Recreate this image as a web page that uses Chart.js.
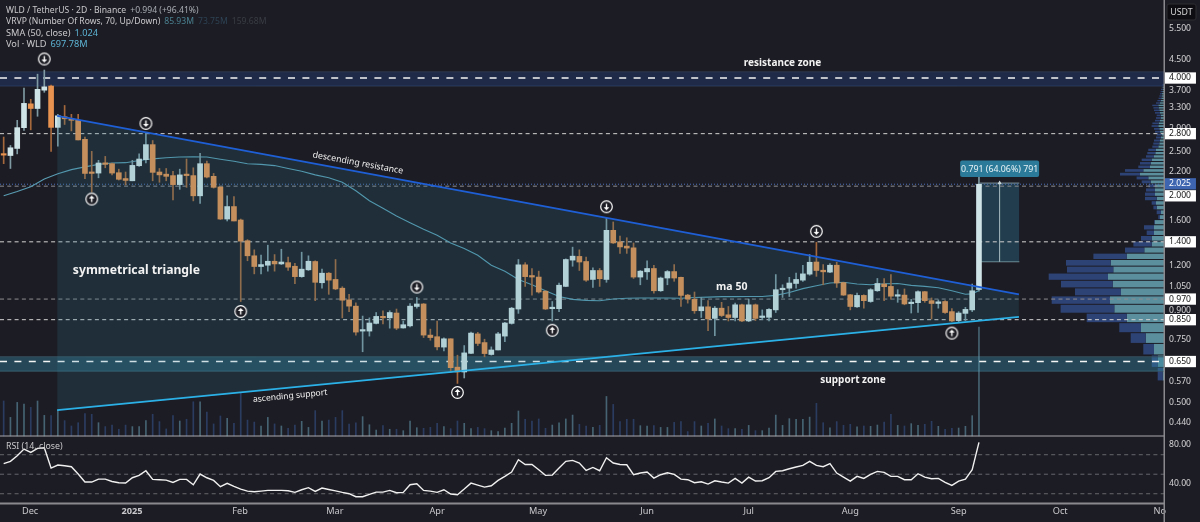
<!DOCTYPE html>
<html>
<head>
<meta charset="utf-8">
<title>WLD / TetherUS</title>
<script src="https://cdn.jsdelivr.net/npm/chart.js@4"></script>
<style>
    html, body { margin: 0; padding: 0; background: #1c1c24; overflow: hidden; }
    canvas { display: block; }
</style>
</head>
<body>
<canvas id="chart" width="1200" height="522"></canvas>
<script>
// candles, one every two days
const opens = [
    2.45, 2.434, 2.547, 2.91, 3.39, 3.29, 3.70, 3.80, 2.915, 3.12,
    3.08, 3.05, 2.70, 2.18, 2.175, 2.32, 2.31, 2.18, 2.10, 2.07,
    2.28, 2.37, 2.61, 2.19, 2.16, 2.14, 2.02, 2.15, 2.14, 1.88,
    2.31, 2.13, 1.99, 1.62, 1.755, 1.61, 1.41, 1.28, 1.195, 1.205,
    1.236, 1.215, 1.225, 1.197, 1.12, 1.17, 1.234, 1.077, 1.145, 1.10,
    1.04, 0.965, 0.927, 0.79, 0.79, 0.83, 0.868, 0.86, 0.887, 0.806,
    0.817, 0.925, 0.94, 0.77, 0.762, 0.713, 0.752, 0.627, 0.608, 0.685,
    0.776, 0.734, 0.68, 0.70, 0.765, 0.83, 0.91, 1.208, 1.125, 1.117,
    1.02, 0.912, 0.912, 1.052, 1.245, 1.275, 1.234, 1.10, 1.165, 1.10,
    1.507, 1.40, 1.362, 1.347, 1.117, 1.155, 1.18, 1.023, 1.11, 1.157,
    1.115, 0.995, 0.968, 0.90, 0.923, 0.857, 0.915, 0.877, 0.862, 0.935,
    0.843, 0.935, 0.862, 0.863, 0.905, 1.03, 1.04, 1.072, 1.095, 1.138,
    1.23, 1.167, 1.153, 1.205, 1.078, 0.997, 0.923, 0.993, 0.955, 1.023,
    1.068, 1.052, 0.988, 0.995, 0.942, 0.948, 1.017, 0.96, 0.943, 0.955,
    0.895, 0.845, 0.885, 0.905, 1.031
];
const closes = [
    2.44, 2.558, 2.91, 3.40, 3.29, 3.72, 3.78, 2.915, 3.14, 3.08,
    3.05, 2.69, 2.17, 2.17, 2.32, 2.30, 2.175, 2.09, 2.075, 2.285,
    2.38, 2.61, 2.185, 2.15, 2.13, 2.02, 2.15, 2.14, 1.88, 2.31,
    2.12, 1.985, 1.62, 1.755, 1.60, 1.406, 1.28, 1.195, 1.21, 1.236,
    1.215, 1.23, 1.19, 1.12, 1.175, 1.236, 1.08, 1.145, 1.095, 1.035,
    0.963, 0.927, 0.785, 0.793, 0.832, 0.868, 0.86, 0.89, 0.805, 0.823,
    0.927, 0.94, 0.77, 0.758, 0.714, 0.752, 0.625, 0.608, 0.687, 0.78,
    0.73, 0.684, 0.70, 0.776, 0.832, 0.915, 1.208, 1.12, 1.117, 1.015,
    0.91, 0.917, 1.06, 1.25, 1.277, 1.23, 1.095, 1.165, 1.105, 1.507,
    1.39, 1.355, 1.345, 1.117, 1.16, 1.18, 1.023, 1.11, 1.157, 1.11,
    0.993, 0.97, 0.90, 0.923, 0.854, 0.915, 0.873, 0.862, 0.935, 0.843,
    0.935, 0.857, 0.866, 0.908, 1.03, 1.04, 1.075, 1.10, 1.14, 1.228,
    1.165, 1.155, 1.205, 1.075, 0.995, 0.925, 0.993, 0.96, 1.03, 1.072,
    1.05, 0.988, 0.997, 0.94, 0.95, 1.017, 0.96, 0.943, 0.953, 0.89,
    0.843, 0.887, 0.908, 1.023, 2.025
];
const highs = [
    2.74, 2.596, 3.05, 3.75, 3.49, 4.10, 4.21, 3.82, 3.17, 3.355,
    3.17, 3.17, 2.74, 2.50, 2.36, 2.42, 2.32, 2.23, 2.19, 2.36,
    2.46, 2.81, 2.68, 2.24, 2.24, 2.20, 2.23, 2.38, 2.25, 2.47,
    2.35, 2.17, 1.99, 1.88, 1.87, 1.62, 1.42, 1.33, 1.285, 1.37,
    1.29, 1.335, 1.27, 1.22, 1.31, 1.28, 1.24, 1.175, 1.15, 1.25,
    1.05, 1.0, 0.947, 0.87, 0.86, 0.89, 0.90, 0.90, 0.91, 0.843,
    0.943, 0.98, 0.943, 0.80, 0.843, 0.757, 0.752, 0.677, 0.72, 0.785,
    0.784, 0.75, 0.714, 0.784, 0.836, 0.92, 1.25, 1.225, 1.18, 1.16,
    1.023, 0.955, 1.075, 1.255, 1.353, 1.33, 1.27, 1.185, 1.18, 1.63,
    1.59, 1.453, 1.437, 1.39, 1.165, 1.24, 1.205, 1.117, 1.165, 1.21,
    1.117, 1.0, 1.015, 0.98, 0.96, 0.925, 0.95, 0.925, 0.945, 0.94,
    0.97, 0.94, 0.905, 0.912, 1.135, 1.063, 1.115, 1.145, 1.205, 1.29,
    1.395, 1.21, 1.217, 1.228, 1.08, 1.0, 1.008, 0.997, 1.037, 1.107,
    1.107, 1.135, 1.03, 1.035, 0.968, 1.023, 1.019, 0.977, 0.965, 0.96,
    0.912, 0.895, 0.92, 1.068, 2.125
];
const lows = [
    2.31, 2.24, 2.46, 2.86, 2.87, 3.13, 3.65, 2.50, 2.585, 2.97,
    2.85, 2.69, 2.10, 1.925, 2.11, 2.25, 2.15, 2.08, 2.015, 2.07,
    2.27, 2.32, 2.07, 2.05, 2.07, 1.83, 1.96, 1.985, 1.82, 1.79,
    2.11, 1.975, 1.615, 1.60, 1.60, 0.955, 1.24, 1.14, 1.14, 1.16,
    1.16, 1.21, 1.165, 1.07, 1.115, 1.165, 0.96, 1.04, 1.0, 1.03,
    0.86, 0.895, 0.77, 0.692, 0.765, 0.827, 0.827, 0.805, 0.797, 0.805,
    0.811, 0.915, 0.758, 0.745, 0.70, 0.696, 0.608, 0.565, 0.585, 0.684,
    0.72, 0.67, 0.677, 0.70, 0.738, 0.826, 0.885, 1.052, 0.995, 1.008,
    0.907, 0.843, 0.895, 1.05, 1.197, 1.165, 1.087, 1.045, 1.052, 1.08,
    1.385, 1.30, 1.30, 1.107, 1.063, 1.10, 1.008, 1.019, 1.063, 1.087,
    0.925, 0.945, 0.885, 0.862, 0.792, 0.767, 0.867, 0.843, 0.843, 0.839,
    0.839, 0.845, 0.85, 0.843, 0.89, 0.98, 0.986, 1.04, 1.087, 1.13,
    1.122, 1.063, 1.148, 1.045, 0.993, 0.905, 0.92, 0.915, 0.95, 1.019,
    0.96, 0.97, 0.95, 0.935, 0.887, 0.89, 0.95, 0.854, 0.915, 0.885,
    0.839, 0.839, 0.845, 0.895, 1.02
];
// volume in millions
const volumes = [
    224, 119, 215, 205, 183, 224, 132, 130, 166, 98,
    64, 85, 143, 139, 85, 60, 70, 43, 70, 60,
    60, 98, 139, 92, 45, 130, 96, 107, 219, 219,
    153, 77, 128, 113, 81, 273, 102, 89, 64, 119,
    77, 64, 49, 70, 94, 55, 162, 96, 102, 119,
    162, 77, 85, 124, 72, 38, 66, 43, 43, 34,
    96, 53, 49, 55, 81, 60, 47, 96, 81, 47,
    55, 47, 34, 28, 51, 81, 160, 107, 96, 109,
    49, 70, 85, 109, 134, 75, 64, 55, 68, 253,
    202, 92, 107, 107, 66, 64, 66, 55, 55, 87,
    92, 28, 92, 64, 81, 109, 64, 47, 47, 43,
    68, 34, 34, 51, 134, 68, 111, 107, 107, 121,
    209, 85, 53, 92, 68, 75, 58, 64, 62, 70,
    89, 138, 68, 64, 79, 68, 75, 94, 62, 43,
    49, 51, 62, 130, 697.78
];
const rsiValues = [
    60.8, 63.2, 69, 75.8, 72.4, 76.5, 77.2, 56.3, 59.4, 58.7,
    57.7, 50.2, 42, 42, 45, 45, 42.6, 41.3, 41, 46.4,
    48.8, 53.6, 44.7, 44.4, 44, 41.6, 44.7, 44.7, 39.2, 50.2,
    46.4, 43.7, 37.2, 40.6, 37.5, 34.8, 32.7, 32, 32.7, 33.4,
    33.4, 33.4, 33, 31.4, 34.1, 36.2, 32.4, 35.8, 34.4, 33,
    31.4, 30, 26.9, 26.9, 29.3, 31.7, 31.7, 33.4, 31, 31.4,
    39.2, 40.3, 33.4, 32.7, 31.4, 34.1, 29.7, 29, 34.8, 40.9,
    38.9, 36.8, 38.2, 43.7, 47.8, 52.2, 64.9, 60, 60, 54.6,
    48.8, 49.1, 56.3, 63.2, 64.2, 61.5, 53.9, 57, 53.6, 66.9,
    61.5, 60, 59.7, 49.5, 51.2, 52.2, 46, 49.5, 51.5, 49.8,
    45, 44.4, 41.3, 42.3, 39.9, 43.3, 42, 40.9, 45.7, 40.9,
    47, 43, 43.3, 46.4, 52.9, 53.6, 55.6, 57.4, 59, 63.2,
    59, 57.7, 60.8, 51.2, 47.1, 43, 47.8, 45.7, 49.8, 52.9,
    51.9, 47.8, 47.8, 44.4, 44.4, 50.5, 47.1, 45.4, 45.7, 41.6,
    38.5, 43, 45, 54.6, 82.6
];

// SMA 50, read at every other candle
const smaIndex = [
    0, 2, 4, 6, 8, 10, 12, 14, 16, 18, 20, 22, 24, 26, 28, 30, 32, 34, 36, 38,
    40, 42, 44, 46, 48, 50, 52, 54, 56, 58, 60, 62, 64, 66, 68, 70, 72, 74, 76, 78,
    80, 82, 84, 86, 88, 90, 92, 94, 96, 98, 100, 102, 104, 106, 108, 110, 112, 114, 116, 118,
    120, 122, 124, 126, 128, 130, 132, 134, 136, 138, 140, 142, 143, 144
];
const smaValues = [
    1.88, 1.933, 1.993, 2.094, 2.165, 2.224, 2.263, 2.30, 2.32, 2.325, 2.357, 2.383, 2.40, 2.41, 2.415, 2.41, 2.377, 2.347, 2.31, 2.30,
    2.282, 2.24, 2.20, 2.15, 2.11, 2.05, 1.942, 1.821, 1.737, 1.653, 1.583, 1.517, 1.46, 1.39, 1.342, 1.285, 1.205, 1.159, 1.10, 1.063,
    1.023, 0.986, 0.968, 0.962, 0.96, 0.97, 0.975, 0.977, 0.977, 0.977, 0.975, 0.98, 0.982, 0.985, 0.985, 0.986, 0.986, 0.993, 1.012, 1.037,
    1.057, 1.075, 1.08, 1.068, 1.063, 1.07, 1.072, 1.059, 1.052, 1.043, 1.023, 1.0, 1.003, 1.024
];

// visible range of the time axis, in candles
const xStart = -0.542;
const xEnd = 171.32;

// axis ticks
const monthTicks = [3.9, 18.95, 34.9, 48.9, 64, 78.9, 95, 110, 125, 141, 156, 170.7];
const monthLabels = ['Dec', '2025', 'Feb', 'Mar', 'Apr', 'May', 'Jun', 'Jul', 'Aug', 'Sep', 'Oct', 'No'];
const priceTicks = [5.5, 4.5, 3.7, 3.3, 2.9, 2.5, 2.2, 1.6, 1.2, 1.05, 0.9, 0.75, 0.57, 0.5, 0.44, 4.0, 2.8, 1.88, 2.03, 1.4, 0.97, 0.85, 0.65];
const priceLabels = ['5.500', '4.500', '3.700', '3.300', '2.900', '2.500', '2.200', '1.600', '1.200', '1.050', '0.900', '0.750', '0.570', '0.500', '0.440', '4.000', '2.800', '2.000', '2.025', '1.400', '0.970', '0.850', '0.650'];
const firstBoxedTick = 15;
const lastPriceTick = 18;
const rsiTicks = [80, 40];
const rsiLevels = [70, 50, 30];

// drawn levels and zones
const resistanceZone = [3.80, 4.16];
const supportZone = [0.611, 0.67];
const strongLevels = [4.0, 0.65];
const thinLevels = [2.8, 1.4, 0.85];
const dimLevels = [2.0, 0.97];
const lastPrice = 2.025;

// triangle trendlines
const trendIndex = [7.9, 149.9];
const descendingLine = [3.14, 1.0];
const ascendingLine = [0.476, 0.865];

// arrow markers
const downArrowIndex = [6, 21, 61, 89, 120];
const downArrowPrice = [4.52, 2.99, 1.048, 1.753, 1.497];
const upArrowIndex = [13, 35, 67, 81, 140];
const upArrowPrice = [1.842, 0.896, 0.533, 0.794, 0.78];

// price range measurement
const measureIndex = [144.15, 149.96];
const measureMiddle = 147.05;
const measureLow = 1.232;
const measureHigh = 2.04;

// volume profile rows
const profilePrices = [
    0.600, 0.652, 0.704, 0.756, 0.808, 0.860, 0.912, 0.964, 1.016, 1.068,
    1.120, 1.172, 1.224, 1.276, 1.328, 1.380, 1.432, 1.484, 1.536, 1.588,
    1.640, 1.692, 1.744, 1.796, 1.848, 1.900, 1.952, 2.004, 2.056, 2.108,
    2.160, 2.212, 2.264, 2.316, 2.368, 2.420, 2.472, 2.524, 2.576, 2.628,
    2.680, 2.732, 2.784, 2.836, 2.888, 2.940, 2.992, 3.044, 3.096, 3.148,
    3.200, 3.252, 3.304, 3.356, 3.408, 3.460, 3.512, 3.564, 3.616, 3.668,
    3.720, 3.772, 3.824
];
const profileUp = [
    1.3, 6.3, 10, 18.3, 23, 37.3, 49.7, 54, 43, 51.3,
    56, 50.7, 53.3, 37.3, 19.7, 12.3, 12.3, 10, 10, 9.3,
    4, 3, 7.3, 8, 7.3, 9, 9, 9, 13.3, 15.7,
    24, 20.7, 14, 13.3, 12.3, 10, 8.7, 8, 5.7, 4.7,
    4, 3, 2.3, 4, 4.7, 5.7, 5.3, 4, 3.3, 3.3,
    4, 4.7, 5.3, 5.7, 4, 3.3, 2.7, 2.3, 2, 1.7,
    1.3, 1.3, 1
];
const profileDown = [
    5, 6, 10.7, 15, 21.7, 40, 53.7, 58.3, 46, 51.7,
    59.3, 46.3, 44.7, 33.3, 19.3, 18.3, 10.7, 7.3, 10, 0.7,
    1.7, 4.3, 3.3, 4.3, 11.7, 10, 9, 6.7, 9, 11.7,
    20, 18.3, 11.7, 10.7, 10, 8, 8, 7.7, 6, 6,
    6, 5, 5, 5, 5.3, 6.7, 6.3, 5, 4.7, 4,
    5, 5.3, 5.3, 6, 4, 3.3, 2.7, 2.3, 2, 1.7,
    1.7, 1, 1
];
const profileStep = 0.052;

// rotated and plain notes on the chart: [text, candle, price, angle, font]
const notes = [
    ['resistance zone', 115, 4.40, 0, 'bold 10px "Noto Sans"'],
    ['support zone', 125.4, 0.578, 0, 'bold 10px "Noto Sans"'],
    ['symmetrical triangle', 19.6, 1.165, 0, 'bold 12.2px "Noto Sans"'],
    ['ma 50', 107.5, 1.048, 0, 'bold 10.5px "Noto Sans"'],
    ['descending resistance', 52.3, 2.32, 10.4, '8.8px "Noto Sans"'],
    ['ascending support', 42.3, 0.521, -5.6, '8.5px "Noto Sans"']
];

const background = '#1c1c24';
const upBody = '#cfe4e7';
const downBody = '#e89350';
const upWick = '#7f9aa3';
const downWick = '#a5683c';
const fontName = '"Noto Sans", sans-serif';

function pairs(xs, ys) {
    return xs.map((x, i) => ({ x: x, y: ys[i] }));
}

function isUp(index) {
    return closes[index] >= opens[index];
}

// labels hang over the pane edges in the reference, so no layout padding for them
function noScalePadding(scale) {
    scale.paddingLeft = 0;
    scale.paddingRight = 0;
    scale.paddingTop = 0;
    scale.paddingBottom = 0;
}

function flatLine(value, axis, color, width, dash, order) {
    return {
        type: 'line',
        yAxisID: axis,
        data: [{ x: xStart, y: value }, { x: xEnd, y: value }],
        borderColor: color,
        borderWidth: width,
        borderDash: dash,
        pointRadius: 0,
        order: order
    };
}

function zoneDatasets(zone, fillColor, edgeColor) {
    const top = flatLine(zone[1], 'y', edgeColor, 1, [], 90);
    top.fill = '+1';
    top.backgroundColor = fillColor;
    const bottom = flatLine(zone[0], 'y', edgeColor, 1, [], 90);
    return [top, bottom];
}

function makeArrow(pointsUp) {
    const marker = document.createElement('canvas');
    marker.width = 15;
    marker.height = 15;
    const c = marker.getContext('2d');
    const dir = pointsUp ? -1 : 1;
    c.fillStyle = background;
    c.strokeStyle = '#ffffff';
    c.lineWidth = 1.2;
    c.beginPath();
    c.arc(7.5, 7.5, 5.8, 0, Math.PI * 2);
    c.fill();
    c.stroke();
    c.lineWidth = 1.4;
    c.beginPath();
    c.moveTo(7.5, 7.5 - 3 * dir);
    c.lineTo(7.5, 7.5 + 2 * dir);
    c.stroke();
    c.fillStyle = '#ffffff';
    c.beginPath();
    c.moveTo(7.5, 7.5 + 3.6 * dir);
    c.lineTo(4.6, 7.5 + 0.6 * dir);
    c.lineTo(10.4, 7.5 + 0.6 * dir);
    c.closePath();
    c.fill();
    return marker;
}

function arrowDataset(xs, ys, pointsUp) {
    return {
        type: 'line',
        yAxisID: 'y',
        data: pairs(xs, ys),
        showLine: false,
        pointStyle: makeArrow(pointsUp),
        pointRadius: 7,
        order: 5
    };
}

const candleIndex = opens.map((o, i) => i);

const datasets = [
    ...zoneDatasets(resistanceZone, 'rgba(34, 66, 130, 0.38)', '#2e3a52'),
    ...zoneDatasets(supportZone, 'rgba(50, 130, 160, 0.42)', '#37505c'),
    // triangle fill sits between the two trendlines
    {
        type: 'line',
        yAxisID: 'y',
        data: pairs(trendIndex, descendingLine),
        borderColor: '#1f5fd6',
        borderWidth: 1.8,
        pointRadius: 0,
        fill: '+1',
        backgroundColor: 'rgba(50, 130, 150, 0.19)',
        order: 15
    },
    {
        type: 'line',
        yAxisID: 'y',
        data: pairs(trendIndex, ascendingLine),
        borderColor: '#2cb8f2',
        borderWidth: 1.8,
        pointRadius: 0,
        order: 15
    },
    // measurement box
    {
        type: 'line',
        yAxisID: 'y',
        data: measureIndex.map(x => ({ x: x, y: measureHigh })),
        borderColor: '#7d8f96',
        borderWidth: 1,
        pointRadius: 0,
        fill: '+1',
        backgroundColor: 'rgba(43, 122, 153, 0.36)',
        order: 70
    },
    {
        type: 'line',
        yAxisID: 'y',
        data: measureIndex.map(x => ({ x: x, y: measureLow })),
        borderColor: '#7d8f96',
        borderWidth: 1,
        pointRadius: 0,
        order: 70
    },
    {
        type: 'line',
        yAxisID: 'y',
        data: [{ x: measureMiddle, y: measureLow }, { x: measureMiddle, y: measureHigh }],
        borderColor: '#a9bcc2',
        borderWidth: 1,
        pointStyle: 'triangle',
        pointRadius: [0, 2.5],
        pointBackgroundColor: '#c8d6da',
        pointBorderWidth: 0,
        order: 18
    },
    // volume
    {
        type: 'bar',
        yAxisID: 'vol',
        data: pairs(candleIndex, volumes),
        backgroundColor: candleIndex.map(i => isUp(i) ? 'rgba(104, 158, 178, 0.55)' : 'rgba(52, 78, 130, 0.65)'),
        barThickness: 1,
        order: 65
    },
    ...strongLevels.map(v => flatLine(v, 'y', '#f4f4f4', 1.5, [7, 7.4], 60)),
    ...thinLevels.map(v => flatLine(v, 'y', '#d4d4d4', 1, [4, 3.3], 60)),
    ...dimLevels.map(v => flatLine(v, 'y', '#8e8e92', 1, [4, 3.3], 60)),
    flatLine(lastPrice, 'y', '#4d6fb8', 1, [1, 2], 61),
    // SMA 50
    {
        type: 'line',
        yAxisID: 'y',
        data: pairs(smaIndex, smaValues),
        borderColor: '#5a9db3',
        borderWidth: 1.1,
        pointRadius: 0,
        order: 40
    },
    // candle wicks and bodies
    {
        type: 'bar',
        yAxisID: 'y',
        data: candleIndex.map(i => ({ x: i, y: [lows[i], highs[i]] })),
        backgroundColor: candleIndex.map(i => isUp(i) ? upWick : downWick),
        barThickness: 1,
        order: 30
    },
    {
        type: 'bar',
        yAxisID: 'y',
        data: candleIndex.map(i => ({ x: i, y: [opens[i], closes[i]] })),
        backgroundColor: candleIndex.map(i => isUp(i) ? upBody : downBody),
        barThickness: 5,
        minBarLength: 1.5,
        order: 20
    },
    arrowDataset(downArrowIndex, downArrowPrice, false),
    arrowDataset(upArrowIndex, upArrowPrice, true),
    // RSI pane
    ...rsiLevels.map(v => flatLine(v, 'rsi', '#66666c', 1, [4, 3.3], 12)),
    {
        type: 'line',
        yAxisID: 'rsi',
        data: pairs(candleIndex, rsiValues),
        borderColor: '#f0f0f0',
        borderWidth: 1.4,
        pointRadius: 0,
        order: 10
    }
];

function drawLegendLine(ctx, y, size, parts) {
    let x = 6;
    ctx.font = size + 'px ' + fontName;
    parts.forEach(part => {
        ctx.fillStyle = part[1];
        ctx.fillText(part[0], x, y);
        x += ctx.measureText(part[0]).width + 4;
    });
}

// volume profile goes under the zones and levels
const profilePlugin = {
    id: 'profile',
    beforeDatasetsDraw(chart) {
        const ctx = chart.ctx;
        const y = chart.scales.y;
        const w = chart.scales.profile;
        ctx.save();
        profilePrices.forEach((price, i) => {
            const top = y.getPixelForValue(price + profileStep / 2) + 0.5;
            const bottom = y.getPixelForValue(price - profileStep / 2) - 0.5;
            const upEnd = w.getPixelForValue(profileUp[i]);
            const downEnd = w.getPixelForValue(profileUp[i] + profileDown[i]);
            ctx.fillStyle = '#5b8f9e';
            ctx.fillRect(upEnd, top, w.getPixelForValue(0) - upEnd, bottom - top);
            ctx.fillStyle = '#2e4375';
            ctx.fillRect(downEnd, top, upEnd - downEnd, bottom - top);
        });
        ctx.restore();
    }
};

// text notes, pane frame and legend
const overlayPlugin = {
    id: 'overlay',
    afterDraw(chart) {
        const ctx = chart.ctx;
        const x = chart.scales.x;
        const y = chart.scales.y;
        const right = chart.chartArea.right;
        const rsiBottom = chart.chartArea.bottom;
        ctx.save();

        // pane separators and price axis edge
        ctx.fillStyle = '#a8a8ac';
        ctx.fillRect(0, y.bottom - 0.5, right, 1);
        ctx.fillStyle = '#8a8a8e';
        ctx.fillRect(0, rsiBottom - 0.5, right, 2);
        ctx.fillRect(right - 0.5, 0, 1.5, chart.height);

        // notes
        ctx.textBaseline = 'middle';
        ctx.textAlign = 'center';
        ctx.fillStyle = '#f2f2f2';
        notes.forEach(note => {
            ctx.save();
            ctx.translate(x.getPixelForValue(note[1]), y.getPixelForValue(note[2]));
            ctx.rotate(note[3] * Math.PI / 180);
            ctx.font = note[4];
            ctx.fillText(note[0], 0, 0);
            ctx.restore();
        });

        // measurement label
        const labelX = x.getPixelForValue(measureMiddle);
        ctx.fillStyle = '#2b7a99';
        ctx.beginPath();
        ctx.roundRect(labelX - 39.5, 160.5, 79, 16.5, 2);
        ctx.fill();
        ctx.fillStyle = '#e8f2f5';
        ctx.font = '8.8px ' + fontName;
        ctx.fillText('0.791 (64.06%) 791', labelX, 169);

        // legend block
        ctx.textAlign = 'left';
        drawLegendLine(ctx, 10.5, 8.6, [['WLD / TetherUS · 2D · Binance', '#c9c9cc'], ['+0.994 (+96.41%)', '#a9adb3']]);
        drawLegendLine(ctx, 22, 8.6, [['VRVP (Number Of Rows, 70, Up/Down)', '#c9c9cc'], ['85.93M', '#4a8090'], ['73.75M', '#2d4254'], ['159.68M', '#3a3d44']]);
        drawLegendLine(ctx, 33, 9.2, [['SMA (50, close)', '#c9c9cc'], ['1.024', '#5cb2d2']]);
        drawLegendLine(ctx, 44, 9.2, [['Vol · WLD', '#c9c9cc'], ['697.78M', '#5cb2d2']]);
        ctx.font = '8.8px ' + fontName;
        ctx.fillStyle = '#c9c9cc';
        ctx.fillText('RSI (14, close)', 6, y.bottom + 10);

        // currency box
        ctx.fillStyle = '#0e0e12';
        ctx.strokeStyle = '#2c2c32';
        ctx.beginPath();
        ctx.roundRect(1167, 4, 29, 16, 2);
        ctx.fill();
        ctx.stroke();
        ctx.fillStyle = '#d4d4d6';
        ctx.font = '8.8px ' + fontName;
        ctx.textAlign = 'center';
        ctx.fillText('USDT', 1181.5, 12.5);
        ctx.restore();
    }
};

new Chart(document.getElementById('chart'), {
    type: 'bar',
    data: { datasets: datasets },
    plugins: [profilePlugin, overlayPlugin],
    options: {
        responsive: false,
        animation: false,
        layout: { padding: 0, autoPadding: false },
        datasets: { bar: { grouped: false, borderWidth: 0 } },
        plugins: { legend: { display: false }, tooltip: { enabled: false } },
        scales: {
            x: {
                type: 'linear',
                min: xStart,
                max: xEnd,
                offset: false,
                grid: { display: false, drawTicks: false, offset: false },
                border: { display: false },
                afterBuildTicks: scale => { scale.ticks = monthTicks.map(v => ({ value: v })); },
                afterFit: scale => { scale.height = 19; noScalePadding(scale); },
                ticks: {
                    autoSkip: false,
                    maxRotation: 0,
                    padding: 3,
                    color: '#c8c8cc',
                    font: ctx => ({ family: fontName, size: 9.2, weight: ctx.index === 1 ? 'bold' : 'normal' }),
                    callback: (value, index) => monthLabels[index]
                }
            },
            profile: {
                type: 'linear',
                axis: 'x',
                position: 'bottom',
                display: false,
                offset: false,
                reverse: true,
                min: 0,
                max: 1164
            },
            y: {
                type: 'logarithmic',
                position: 'right',
                stack: 'panes',
                stackWeight: 436,
                weight: 1,
                min: 0.4033,
                max: 6.595,
                grid: { display: false, drawTicks: false },
                border: { display: false },
                afterBuildTicks: scale => { scale.ticks = priceTicks.map(v => ({ value: v })); },
                afterFit: scale => { scale.width = 36; noScalePadding(scale); },
                ticks: {
                    autoSkip: false,
                    padding: 5,
                    showLabelBackdrop: true,
                    backdropPadding: { x: 5, y: 0.5 },
                    backdropColor: ctx => ctx.index === lastPriceTick ? '#3d65b0' : (ctx.index >= firstBoxedTick ? '#ffffff' : 'transparent'),
                    color: ctx => ctx.index === lastPriceTick ? '#ffffff' : (ctx.index >= firstBoxedTick ? '#111111' : '#d6d6d8'),
                    font: { family: fontName, size: 8.6 },
                    callback: (value, index) => priceLabels[index]
                }
            },
            rsi: {
                type: 'linear',
                position: 'right',
                stack: 'panes',
                stackWeight: 67,
                weight: 2,
                min: 20.5,
                max: 89.2,
                grid: { display: false, drawTicks: false },
                border: { display: false },
                afterBuildTicks: scale => { scale.ticks = rsiTicks.map(v => ({ value: v })); },
                afterFit: scale => { scale.width = 36; noScalePadding(scale); },
                ticks: {
                    autoSkip: false,
                    padding: 5,
                    color: '#d6d6d8',
                    font: { family: fontName, size: 8.6 },
                    callback: value => value.toFixed(2)
                }
            },
            vol: {
                type: 'linear',
                position: 'right',
                display: false,
                min: -429,
                max: 2791
            }
        }
    }
});
</script>
</body>
</html>
